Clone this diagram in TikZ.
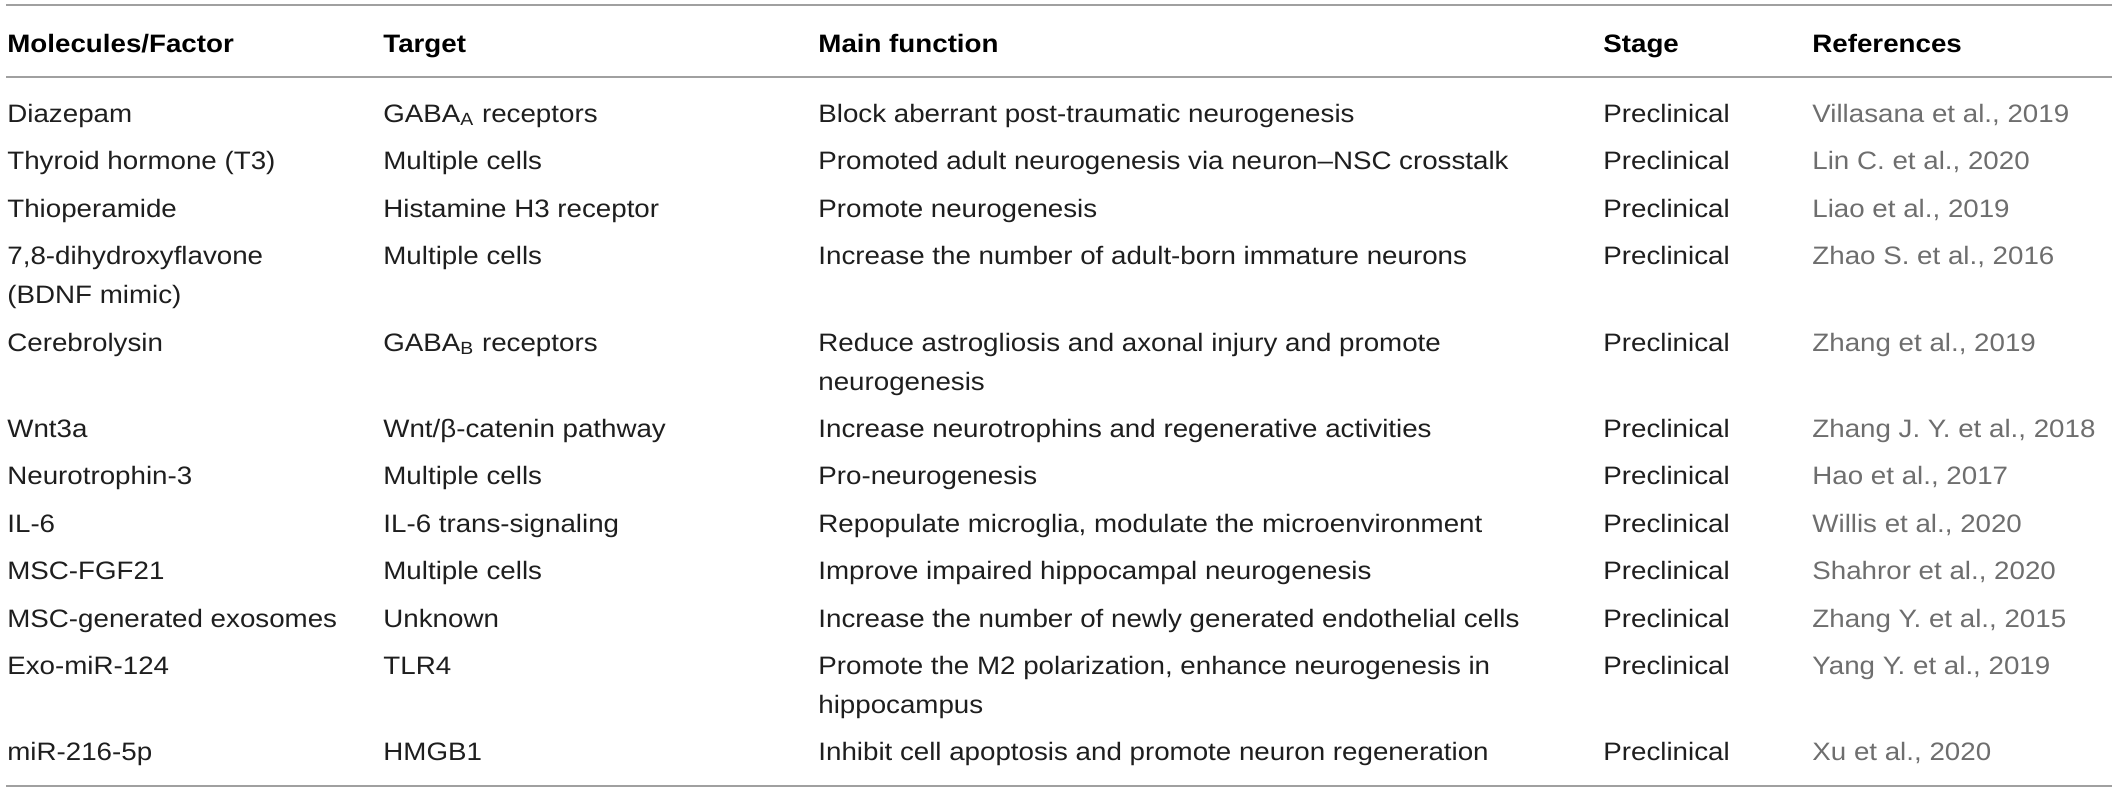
\documentclass[tikz,border=0pt]{standalone}
\usepackage{fontspec}
\setmainfont{Liberation Sans}[FakeStretch=1.1]
\usepackage{tikz}
\usetikzlibrary{calc}

\definecolor{rulegray}{RGB}{160,160,160}
\definecolor{bodyblack}{RGB}{30,30,30}
\definecolor{refgray}{RGB}{110,110,110}

\begin{document}
\begin{tikzpicture}[x=0.5pt, y=-0.5pt,
	            every node/.style={
	            inner sep=0pt,
	            anchor=base west,
	            align=left,
	            text=bodyblack,
	            font=\fontsize{12.6}{19.5}\selectfont
	            },
	            head/.style={font=\fontsize{12.6}{19.5}\selectfont\bfseries, text=black},
	            cite/.style={text=refgray},
	            rule/.style={
                    draw=rulegray,
                    line width=1pt
                }]

	        \useasboundingbox (0,0) rectangle (2118,793);

	        % rules
	        \coordinate (top l) at (6,5);
	        \coordinate (top r) at (2112,5);
	        \coordinate (mid l) at (6,77);
	        \coordinate (mid r) at (2112,77);
	        \coordinate (bot l) at (6,786);
	        \coordinate (bot r) at (2112,786);
	        \draw[rule] (top l) -- (top r);
	        \draw[rule] (mid l) -- (mid r);
	        \draw[rule] (bot l) -- (bot r);

	        % header
	        \node[head] (hmol) at (7,52) {Molecules/Factor};
	        \node[head] (htar) at (383,52) {Target};
	        \node[head] (hfun) at (818,52) {Main function};
	        \node[head] (hsta) at (1603,52) {Stage};
	        \node[head] (href) at (1812,52) {References};

	        % rows (two-line cells sit on their last baseline)
	        \node (mol1) at (7,122) {Diazepam};
	        \node (tar1) at (383,122) {GABA\textsubscript{A} receptors};
	        \node (fun1) at (818,122) {Block aberrant post-traumatic neurogenesis};
	        \node (sta1) at (1603,122) {Preclinical};
	        \node[cite] (ref1) at (1812,122) {Villasana et al., 2019};

	        \node (mol2) at (7,169) {Thyroid hormone (T3)};
	        \node (tar2) at (383,169) {Multiple cells};
	        \node (fun2) at (818,169) {Promoted adult neurogenesis via neuron–NSC crosstalk};
	        \node (sta2) at (1603,169) {Preclinical};
	        \node[cite] (ref2) at (1812,169) {Lin C. et al., 2020};

	        \node (mol3) at (7,217) {Thioperamide};
	        \node (tar3) at (383,217) {Histamine H3 receptor};
	        \node (fun3) at (818,217) {Promote neurogenesis};
	        \node (sta3) at (1603,217) {Preclinical};
	        \node[cite] (ref3) at (1812,217) {Liao et al., 2019};

	        \node (mol4) at (7,303) {7,8-dihydroxyflavone\\(BDNF mimic)};
	        \node (tar4) at (383,264) {Multiple cells};
	        \node (fun4) at (818,264) {Increase the number of adult-born immature neurons};
	        \node (sta4) at (1603,264) {Preclinical};
	        \node[cite] (ref4) at (1812,264) {Zhao S. et al., 2016};

	        \node (mol5) at (7,351) {Cerebrolysin};
	        \node (tar5) at (383,351) {GABA\textsubscript{B} receptors};
	        \node (fun5) at (818,390) {Reduce astrogliosis and axonal injury and promote\\neurogenesis};
	        \node (sta5) at (1603,351) {Preclinical};
	        \node[cite] (ref5) at (1812,351) {Zhang et al., 2019};

	        \node (mol6) at (7,437) {Wnt3a};
	        \node (tar6) at (383,437) {Wnt/β-catenin pathway};
	        \node (fun6) at (818,437) {Increase neurotrophins and regenerative activities};
	        \node (sta6) at (1603,437) {Preclinical};
	        \node[cite] (ref6) at (1812,437) {Zhang J. Y. et al., 2018};

	        \node (mol7) at (7,484) {Neurotrophin-3};
	        \node (tar7) at (383,484) {Multiple cells};
	        \node (fun7) at (818,484) {Pro-neurogenesis};
	        \node (sta7) at (1603,484) {Preclinical};
	        \node[cite] (ref7) at (1812,484) {Hao et al., 2017};

	        \node (mol8) at (7,532) {IL-6};
	        \node (tar8) at (383,532) {IL-6 trans-signaling};
	        \node (fun8) at (818,532) {Repopulate microglia, modulate the microenvironment};
	        \node (sta8) at (1603,532) {Preclinical};
	        \node[cite] (ref8) at (1812,532) {Willis et al., 2020};

	        \node (mol9) at (7,579) {MSC-FGF21};
	        \node (tar9) at (383,579) {Multiple cells};
	        \node (fun9) at (818,579) {Improve impaired hippocampal neurogenesis};
	        \node (sta9) at (1603,579) {Preclinical};
	        \node[cite] (ref9) at (1812,579) {Shahror et al., 2020};

	        \node (mol10) at (7,627) {MSC-generated exosomes};
	        \node (tar10) at (383,627) {Unknown};
	        \node (fun10) at (818,627) {Increase the number of newly generated endothelial cells};
	        \node (sta10) at (1603,627) {Preclinical};
	        \node[cite] (ref10) at (1812,627) {Zhang Y. et al., 2015};

	        \node (mol11) at (7,674) {Exo-miR-124};
	        \node (tar11) at (383,674) {TLR4};
	        \node (fun11) at (818,713) {Promote the M2 polarization, enhance neurogenesis in\\hippocampus};
	        \node (sta11) at (1603,674) {Preclinical};
	        \node[cite] (ref11) at (1812,674) {Yang Y. et al., 2019};

	        \node (mol12) at (7,760) {miR-216-5p};
	        \node (tar12) at (383,760) {HMGB1};
	        \node (fun12) at (818,760) {Inhibit cell apoptosis and promote neuron regeneration};
	        \node (sta12) at (1603,760) {Preclinical};
	        \node[cite] (ref12) at (1812,760) {Xu et al., 2020};

	    \end{tikzpicture}
\end{document}
